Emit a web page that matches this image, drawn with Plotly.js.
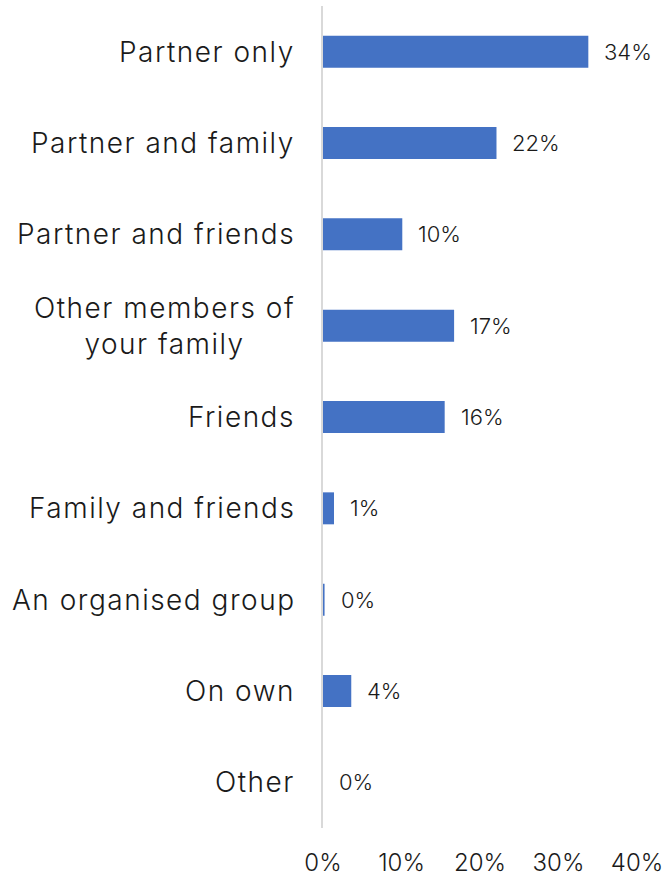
<!DOCTYPE html>
<html>
<head>
<meta charset="utf-8">
<script src="https://cdn.plot.ly/plotly-3.0.1.min.js"></script>
<style>
html,body{margin:0;padding:0;background:#fff;}
#chart{width:669px;height:879px;}
</style>
</head>
<body>
<div id="chart"></div>
<script>
var categories = ["Partner only", "Partner and family", "Partner and friends", "Other members of<br>your family", "Friends", "Family and friends", "An organised group", "On own", "Other"];
var values = [33.8, 22.1, 10.1, 16.7, 15.5, 1.4, 0.2, 3.6, 0];
var valueLabels = ["34%", "22%", "10%", "17%", "16%", "1%", "0%", "4%", "0%"];
var xTickVals = [0, 10, 20, 30, 40];
var xTickText = ["0%", "10%", "20%", "30%", "40%"];

var fontFam = "Inter, 'Open Sans', sans-serif";
var textColor = "#1a1a1a";

function spaced(label) {
  return label.split("<br>").map(function (line) {
    return '<span style="letter-spacing:1.5px">' + line + '</span>';
  }).join("<br>");
}

var trace = {
  type: "bar",
  orientation: "h",
  x: values,
  y: categories,
  marker: {color: "#4472C4"},
  hoverinfo: "none"
};

var annotations = [];
for (var i = 0; i < categories.length; i++) {
  annotations.push({
    x: values[i], y: categories[i], xref: "x", yref: "y",
    text: valueLabels[i], showarrow: false,
    xanchor: "left", yanchor: "middle", xshift: 14,
    font: {family: fontFam, size: 22, color: textColor, weight: 300}
  });
  annotations.push({
    x: 0, y: categories[i], xref: "x", yref: "y",
    text: spaced(categories[i]), showarrow: false,
    xanchor: "right", yanchor: "middle", xshift: -26, align: "center",
    font: {family: fontFam, size: 28, color: textColor, weight: 300}
  });
}

var layout = {
  width: 669, height: 879,
  margin: {l: 323, r: 32, t: 6, b: 51},
  paper_bgcolor: "#ffffff", plot_bgcolor: "#ffffff",
  showlegend: false,
  bargap: 0.65,
  font: {family: fontFam, color: textColor},
  xaxis: {
    range: [0, 40], tickvals: xTickVals, ticktext: xTickText,
    showgrid: false, zeroline: false, showline: false, ticks: "",
    ticklabelstandoff: 18,
    tickfont: {family: fontFam, size: 24, color: textColor, weight: 300}
  },
  yaxis: {
    autorange: "reversed", showticklabels: false, showgrid: false,
    zeroline: false, showline: true, linecolor: "#d9d9d9", linewidth: 2, ticks: ""
  },
  annotations: annotations
};

Plotly.newPlot("chart", [trace], layout, {displayModeBar: false, staticPlot: true});
</script>
</body>
</html>
